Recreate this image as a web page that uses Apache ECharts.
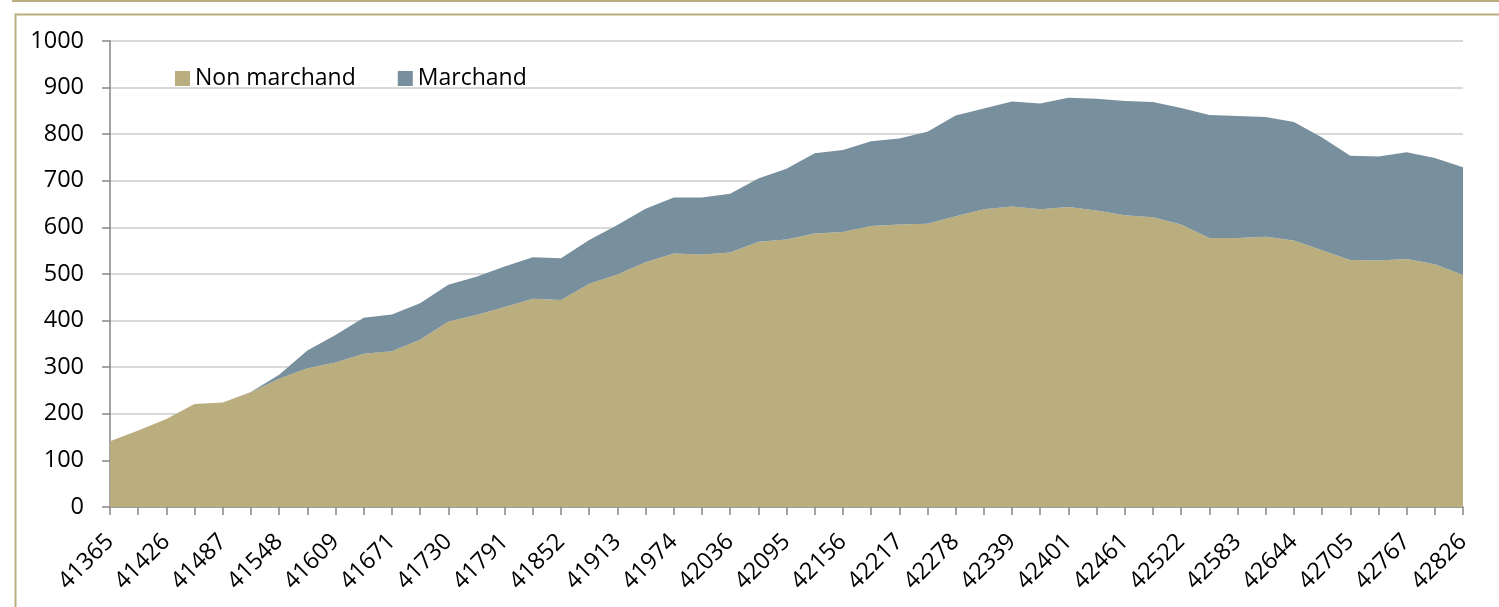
<!DOCTYPE html>
<html>
<head>
    <meta charset="utf-8">
    <script src="https://cdn.jsdelivr.net/npm/echarts@6/dist/echarts.min.js"></script>
    <style>
        html, body { margin: 0; padding: 0; background: #fff; }
    </style>
</head>
<body>
    <div id="main" style="width: 1499px;height:607px;"></div>
<script type="text/javascript">
        // mois (numéros de série Excel)
        var months = [
            41365, 41395, 41426, 41456, 41487, 41518, 41548, 41579, 41609,
            41640, 41671, 41699, 41730, 41760, 41791, 41821, 41852, 41883, 41913, 41944, 41974,
            42005, 42036, 42064, 42095, 42125, 42156, 42186, 42217, 42248, 42278, 42309, 42339,
            42370, 42401, 42430, 42461, 42491, 42522, 42552, 42583, 42614, 42644, 42675, 42705,
            42736, 42767, 42795, 42826
        ];

        var nonMarchand = [
            141, 164, 189, 221, 224, 246, 275, 298, 310, 329, 334, 359, 398,
            412, 429, 447, 444, 479, 499, 525, 544, 542, 546, 569, 574,
            587, 590, 603, 606, 608, 624, 639, 645, 639, 644, 636, 626,
            622, 606, 577, 577, 580, 572, 551, 530, 529, 532, 521, 498
        ];

        var marchand = [
            0, 0, 0, 0, 0, 1, 9, 38, 59, 77, 79, 78, 79,
            82, 87, 89, 90, 94, 106, 115, 120, 122, 126, 136, 152,
            172, 176, 182, 185, 197, 216, 216, 225, 227, 234, 240, 245,
            247, 250, 264, 262, 257, 254, 242, 224, 223, 229, 228, 231
        ];

        var yTicks = { min: 0, max: 1000, interval: 100 };

        var font = '"Open Sans", "Liberation Sans", sans-serif';
        var tan = '#BBAE7E';
        var blue = '#788F9D';

        var myChart = echarts.init(document.getElementById('main'));

        option = {
            backgroundColor: '#fff',
            animation: false,
            textStyle: { fontFamily: font },
            graphic: [
                { type: 'rect', left: 12, top: 0, shape: { width: 1487, height: 2 }, style: { fill: tan } },
                { type: 'rect', left: 13, top: 12, shape: { width: 1500, height: 700 }, style: { fill: 'none', stroke: tan, lineWidth: 2 } }
            ],
            legend: {
                left: 170,
                top: 62,
                itemWidth: 15,
                itemHeight: 15,
                itemGap: 42,
                icon: 'rect',
                textStyle: { fontFamily: font, fontSize: 23, color: '#000' },
                data: ['Non marchand', 'Marchand']
            },
            grid: {
                left: 110,
                right: 36,
                top: 41,
                bottom: 100,
                containLabel: false
            },
            xAxis: {
                type: 'category',
                boundaryGap: false,
                data: months,
                axisLine: { lineStyle: { color: '#868686', width: 1.5 } },
                axisTick: { show: true, interval: 0, length: 8, lineStyle: { color: '#868686', width: 1.5 } },
                axisLabel: {
                    interval: 1,
                    rotate: 45,
                    margin: 31,
                    color: '#000',
                    fontFamily: font,
                    fontSize: 23.5
                },
                splitLine: { show: false }
            },
            yAxis: {
                type: 'value',
                min: yTicks.min,
                max: yTicks.max,
                interval: yTicks.interval,
                axisLine: { show: true, lineStyle: { color: '#868686', width: 1.5 } },
                axisTick: { show: true, length: 8, lineStyle: { color: '#868686', width: 1.5 } },
                axisLabel: {
                    margin: 26,
                    color: '#000',
                    fontFamily: font,
                    fontSize: 23.5,
                    formatter: function (v) { return String(v); }
                },
                splitLine: { lineStyle: { color: '#d9d9d9', width: 2 } }
            },
            series: [
                {
                    name: 'Non marchand',
                    type: 'line',
                    stack: 'total',
                    symbol: 'none',
                    itemStyle: { color: tan },
                    lineStyle: { width: 0 },
                    areaStyle: { color: tan, opacity: 1 },
                    data: nonMarchand
                },
                {
                    name: 'Marchand',
                    type: 'line',
                    stack: 'total',
                    symbol: 'none',
                    itemStyle: { color: blue },
                    lineStyle: { width: 0 },
                    areaStyle: { color: blue, opacity: 1 },
                    data: marchand
                }
            ]
        };

        myChart.setOption(option);
    </script>
</body>
</html>
